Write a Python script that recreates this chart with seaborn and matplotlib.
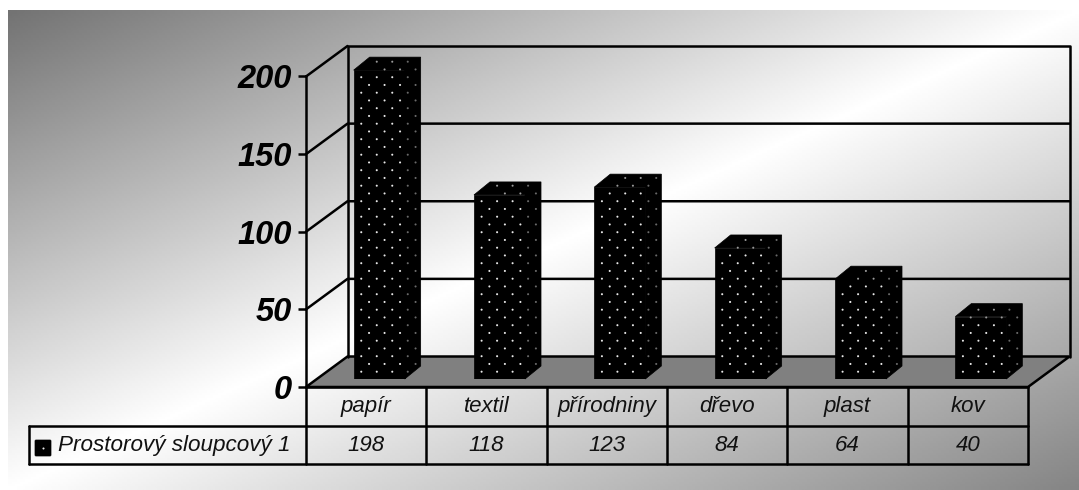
import numpy as np
import pandas as pd
import matplotlib.pyplot as plt
from matplotlib.patches import Polygon, FancyBboxPatch
import seaborn as sns

categories = ["papír", "textil", "přírodniny", "dřevo", "plast", "kov"]
values = [198, 118, 123, 84, 64, 40]
y_ticks = [0, 50, 100, 150, 200]
series_name = "Prostorový sloupcový 1"

W, H = 1079, 490
# front plane of the fake 3D box, in pixels
FX0, FX1, FY0, FY1 = 306, 1028, 387, 76.5
# depth of the box and of each bar
BOX_DX, BOX_DY = 41.5, 30.5
BAR_DX, BAR_DY = 16, 13
LW = 1.8

sns.set_theme(style="white")
plt.rcParams["font.family"] = ["Liberation Sans", "DejaVu Sans"]

df = pd.DataFrame({"material": categories, "count": values})

fig = plt.figure(figsize=(W / 100, H / 100), dpi=100, facecolor="white")


def px_axes(zorder):
    a = fig.add_axes([0, 0, 1, 1], zorder=zorder)
    a.set_xlim(0, W)
    a.set_ylim(H, 0)
    a.axis("off")
    return a


def box_axes(x0, x1, y0, y1, zorder):
    return fig.add_axes([x0 / W, 1 - y0 / H, (x1 - x0) / W, (y0 - y1) / H], zorder=zorder)


# background gradient
back = px_axes(0)
u, v = np.meshgrid(np.linspace(0, 1, 400), np.linspace(0, 1, 200))
s = u + v
shade = np.where(s < 1, 0.45 + 0.55 * s, 1 - 0.48 * (s - 1))
back.imshow(shade, cmap="gray", vmin=0, vmax=1, extent=[8, W, H, 11], aspect="auto")
back.set_xlim(0, W)
back.set_ylim(H, 0)

# walls and floor
walls = px_axes(1)
bx0, bx1 = FX0 + BOX_DX, FX1 + BOX_DX
by0, by1 = FY0 - BOX_DY, FY1 - BOX_DY
walls.add_patch(Polygon([(FX0, FY0), (bx0, by0), (bx1, by0), (FX1, FY0)], closed=True,
                        facecolor="#808080", edgecolor="black", lw=LW))
walls.plot([bx0, bx0, bx1, bx1], [by0, by1, by1, by0], color="black", lw=LW)
for t in y_ticks[1:-1]:
    frac = t / y_ticks[-1]
    yb = by0 + (by1 - by0) * frac
    yf = FY0 + (FY1 - FY0) * frac
    walls.plot([FX0, bx0, bx1], [yf, yb, yb], color="black", lw=LW)
walls.plot([FX0, bx0], [FY1, by1], color="black", lw=LW)

# value axis on the front plane
ax = box_axes(FX0, FX1, FY0, FY1, 2)
ax.patch.set_alpha(0)
ax.set_xlim(-0.5, 5.5)
ax.set_ylim(0, 200)
ax.set_xticks([])
ax.set_yticks(y_ticks)
ax.set_yticklabels(y_ticks, fontsize=23.5, fontweight="bold", fontstyle="italic", color="black")
ax.tick_params(axis="y", left=True, length=6, width=LW, color="black", pad=4)
sns.despine(ax=ax, top=True, right=True, bottom=True)
ax.spines["left"].set_linewidth(LW)
ax.spines["left"].set_color("black")

# bars, sitting a bit back from the front plane
bar_ax = box_axes(FX0 + 13, FX1 + 13, 379, 379 - 312, 3)
bar_ax.patch.set_alpha(0)
sns.barplot(data=df, x="material", y="count", color="black", saturation=1, width=0.424,
            edgecolor="black", linewidth=0.5, ax=bar_ax)
bar_ax.set_xlim(-0.5, 5.5)
bar_ax.set_ylim(0, 200)
bar_ax.axis("off")

top = px_axes(4)
to_px = bar_ax.transData.transform
for bar in bar_ax.patches:
    (l, b) = to_px((bar.get_x(), 0))
    (r, t) = to_px((bar.get_x() + bar.get_width(), bar.get_height()))
    b, t = H - b, H - t
    # top and side faces in one shape
    top.add_patch(Polygon([(l, t), (l + BAR_DX, t - BAR_DY), (r + BAR_DX, t - BAR_DY),
                           (r + BAR_DX, b - BAR_DY), (r, b), (r, t)], closed=True,
                          facecolor="black", edgecolor="black", lw=0.5))
    # dotted texture
    row = 0
    y = b - 7.3
    xs, ys, cs = [], [], []
    while y > t - BAR_DY + 2:
        x = l + (7.6 if row % 2 == 0 else 15.4)
        while x < r + BAR_DX - 1:
            side = x > r
            above = y < t + 1
            visible = (y > t - BAR_DY + (0 if x > l + BAR_DX else BAR_DY)) and (y < b - (x - r) * BAR_DY / BAR_DX - 1 if side else True)
            if visible:
                xs.append(x)
                ys.append(y)
                if side:
                    cs.append("#6a6a6a")
                elif above:
                    cs.append("#9a9a9a")
                elif y < t + 4:
                    cs.append("#555555")
                else:
                    cs.append("#e8e8e8")
            x += 15.5
        y -= 7.75
        row += 1
    top.scatter(xs, ys, s=2.2, c=cs, linewidths=0, zorder=5)

# data table under the chart
row_y = [FY0, 426, 464]
col_x = np.linspace(FX0, FX1, len(categories) + 1)
for cx in col_x:
    top.plot([cx, cx], [row_y[0], row_y[2]], color="black", lw=LW)
top.plot([FX0, FX1], [row_y[0], row_y[0]], color="black", lw=LW)
top.plot([29, FX1], [row_y[1], row_y[1]], color="black", lw=LW)
top.plot([29, FX1], [row_y[2], row_y[2]], color="black", lw=LW)
top.plot([29, 29], [row_y[1], row_y[2]], color="black", lw=LW)
for i, (cat, val) in enumerate(zip(categories, values)):
    cx = (col_x[i] + col_x[i + 1]) / 2
    top.text(cx, (row_y[0] + row_y[1]) / 2, cat, ha="center", va="center",
             fontsize=16, fontstyle="italic", color="#111111")
    top.text(cx, (row_y[1] + row_y[2]) / 2, str(val), ha="center", va="center",
             fontsize=16, fontstyle="italic", color="#111111")
top.add_patch(FancyBboxPatch((36, 441), 14, 14, boxstyle="round,pad=1", facecolor="black", edgecolor="black", lw=0.5))
top.scatter([43], [448], s=2.2, c="#e8e8e8", linewidths=0, zorder=5)
top.text(58, (row_y[1] + row_y[2]) / 2, series_name, ha="left", va="center",
         fontsize=16.2, fontstyle="italic", color="#111111")

plt.savefig("out.png", dpi=100)
plt.close()
